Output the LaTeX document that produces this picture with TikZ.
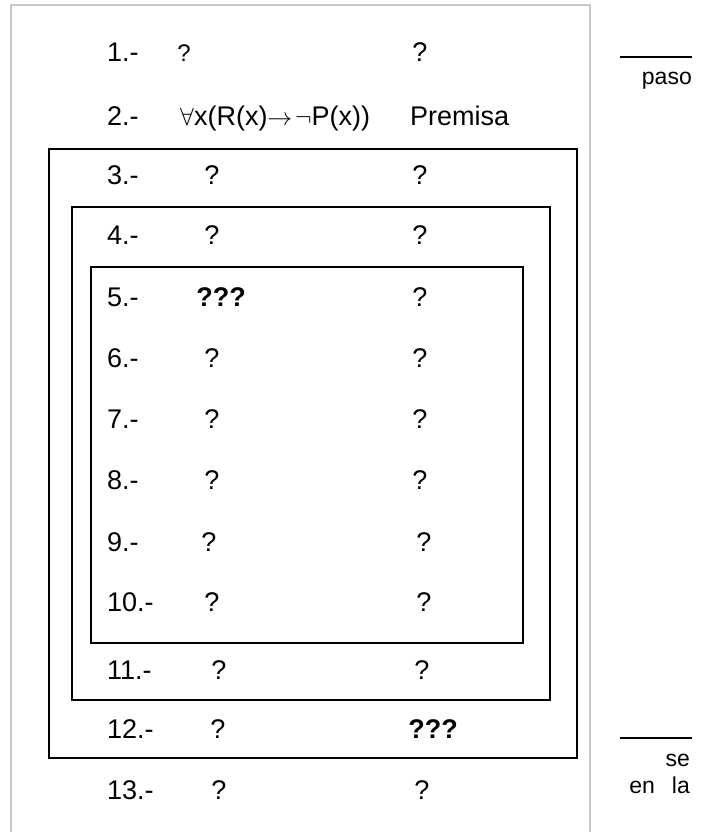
\documentclass[tikz,border=0pt]{standalone}
\usepackage{fontspec}
\setmainfont{Liberation Sans}
\usetikzlibrary{positioning}

\begin{document}
\begin{tikzpicture}[x=1pt,y=-1pt,
    num/.style={anchor=base west,inner sep=0pt,font=\fontsize{27}{32}\selectfont},
    qmark/.style={anchor=base,inner sep=0pt,font=\fontsize{27}{32}\selectfont},
    tinyq/.style={anchor=base,inner sep=0pt,font=\fontsize{24}{28}\selectfont},
    side/.style={anchor=base east,inner sep=0pt,font=\fontsize{23}{28}\selectfont},
    frame/.style={draw=black!22,line width=2pt},
    box/.style={draw=black,line width=1.6pt}]
\useasboundingbox (0,0) rectangle (706,832);
% page frame and the three nested boxes
\draw[frame] (11,832) -- (11,5) -- (590,5) -- (590,832);
\draw[box] (49,149) rectangle (577,758);
\draw[box] (72,207) rectangle (550,700);
\draw[box] (91,267) rectangle (523,643);
% rows
\node[num] (n1) at (107,62) {1.-};
\node[tinyq] (a1) at (184,62) {?};
\node[qmark] (j1) at (420,62) {?};
\node[num] (n2) at (107,125) {2.-};
\node[num] (a2) at (180,125) {$\forall$x(R(x)$\rightarrow\!\neg$P(x))};
\node[num] (j2) at (410,125) {Premisa};
\node[num] (n3) at (107,184) {3.-};
\node[qmark] (a3) at (212,184) {?};
\node[qmark] (j3) at (420,184) {?};
\node[num] (n4) at (107,244) {4.-};
\node[qmark] (a4) at (212,244) {?};
\node[qmark] (j4) at (420,244) {?};
\node[num] (n5) at (107,306) {5.-};
\node[qmark] (a5) at (221,306) {\textbf{???}};
\node[qmark] (j5) at (420,306) {?};
\node[num] (n6) at (107,367) {6.-};
\node[qmark] (a6) at (212,367) {?};
\node[qmark] (j6) at (420,367) {?};
\node[num] (n7) at (107,428) {7.-};
\node[qmark] (a7) at (212,428) {?};
\node[qmark] (j7) at (420,428) {?};
\node[num] (n8) at (107,489) {8.-};
\node[qmark] (a8) at (212,489) {?};
\node[qmark] (j8) at (420,489) {?};
\node[num] (n9) at (107,551) {9.-};
\node[qmark] (a9) at (209,551) {?};
\node[qmark] (j9) at (424,551) {?};
\node[num] (n10) at (107,611) {10.-};
\node[qmark] (a10) at (212,611) {?};
\node[qmark] (j10) at (424,611) {?};
\node[num] (n11) at (107,679) {11.-};
\node[qmark] (a11) at (219,679) {?};
\node[qmark] (j11) at (422,679) {?};
\node[num] (n12) at (107,738) {12.-};
\node[qmark] (a12) at (218,738) {?};
\node[qmark] (j12) at (433,738) {\textbf{???}};
\node[num] (n13) at (107,799) {13.-};
\node[qmark] (a13) at (219,799) {?};
\node[qmark] (j13) at (422,799) {?};
% notes on the right
\draw[line width=1.6pt] (620,57) -- (692,57);
\node[side] (paso) at (692,85) {paso};
\draw[line width=1.6pt] (620,738) -- (692,738);
\node[side] (se) at (690,766) {se};
\node[side] (enla) at (690,793) {en\hspace{17pt}la};
\end{tikzpicture}
\end{document}
